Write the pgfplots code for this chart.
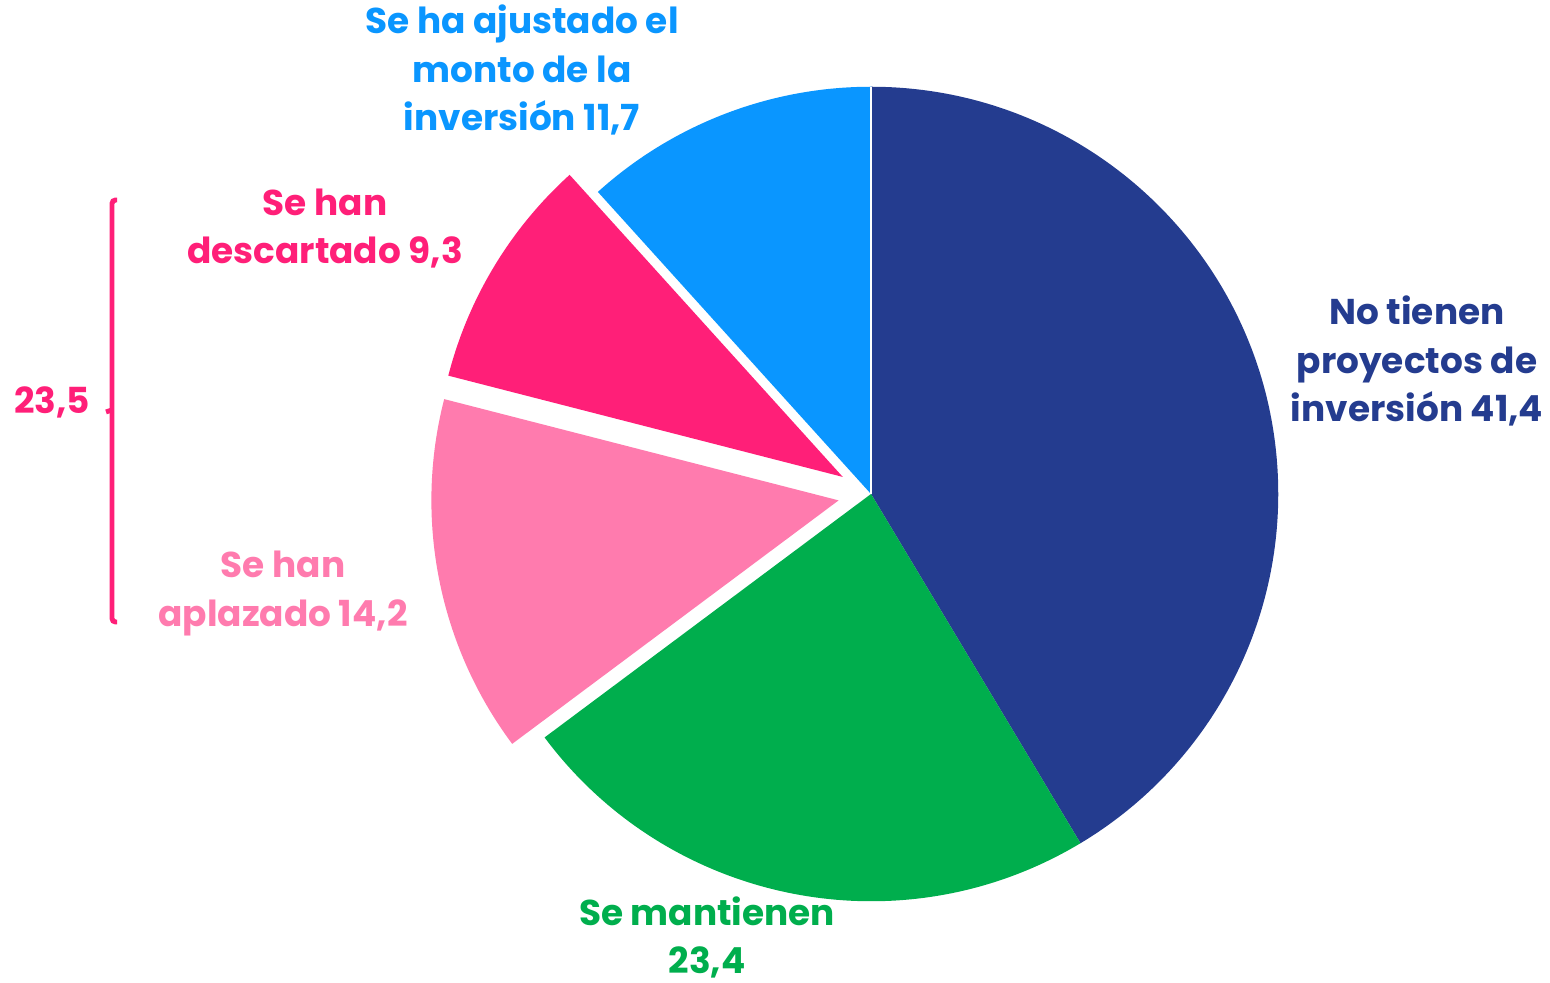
\documentclass[border=0pt]{standalone}
\usepackage{fontspec}
\setmainfont{Poppins}
\usepackage{pgfplots}
\usepackage{pgfplotstable}
\pgfplotsset{compat=1.18}

\definecolor{cNo}{HTML}{243C8F}
\definecolor{cMan}{HTML}{00AE4D}
\definecolor{cApl}{HTML}{FF7BAE}
\definecolor{cDes}{HTML}{FF1F78}
\definecolor{cAju}{HTML}{0A96FF}

\pgfplotstableread{
label      value  explode
NoTienen   41.4   0
Mantienen  23.4   0
Aplazado   14.2   0.33
Descartado 9.3    0.33
Ajustado   11.7   0
}\piedata

\pgfplotstablegetelem{0}{value}\of\piedata \let\vA\pgfplotsretval
\pgfplotstablegetelem{1}{value}\of\piedata \let\vB\pgfplotsretval
\pgfplotstablegetelem{2}{value}\of\piedata \let\vC\pgfplotsretval
\pgfplotstablegetelem{3}{value}\of\piedata \let\vD\pgfplotsretval
\pgfplotstablegetelem{4}{value}\of\piedata \let\vE\pgfplotsretval
\pgfplotstablegetelem{2}{explode}\of\piedata \let\eC\pgfplotsretval
\pgfplotstablegetelem{3}{explode}\of\piedata \let\eD\pgfplotsretval

\pgfmathsetmacro{\aO}{90}
\pgfmathsetmacro{\aA}{\aO-3.6*\vA}
\pgfmathsetmacro{\aB}{\aA-3.6*\vB}
\pgfmathsetmacro{\aC}{\aB-3.6*\vC}
\pgfmathsetmacro{\aD}{\aC-3.6*\vD}
\pgfmathsetmacro{\aE}{\aD-3.6*\vE}
\pgfmathsetmacro{\mC}{(\aB+\aC)/2}
\pgfmathsetmacro{\mD}{(\aC+\aD)/2}

\def\R{4.07cm}

\begin{document}
\begin{tikzpicture}
\begin{axis}[
  x=0.01cm, y=0.01cm,
  xmin=0, xmax=1550, ymin=0, ymax=983,
  hide axis, clip=false, scale only axis,
]
\coordinate (BL) at (axis cs:0,0);
\coordinate (TR) at (axis cs:1550,983);
% slices
\fill[cNo]  (axis cs:871,489) -- ++(\aO:\R) arc[start angle=\aO, end angle=\aA, radius=\R] -- cycle;
\fill[cMan] (axis cs:871,489) -- ++(\aA:\R) arc[start angle=\aA, end angle=\aB, radius=\R] -- cycle;
\fill[cApl] (axis cs:871,489) ++(\mC:\eC cm) -- ++(\aB:\R) arc[start angle=\aB, end angle=\aC, radius=\R] -- cycle;
\fill[cDes] (axis cs:871,489) ++(\mD:\eD cm) -- ++(\aC:\R) arc[start angle=\aC, end angle=\aD, radius=\R] -- cycle;
\fill[cAju] (axis cs:871,489) -- ++(\aD:\R) arc[start angle=\aD, end angle=\aE, radius=\R] -- cycle;
\draw[white, line width=0.4pt] (axis cs:871,489) -- ++(90:\R);
% bracket
\draw[cDes, line width=1.4pt, rounded corners=1pt]
  (axis cs:117,783) -- (axis cs:112,783) -- (axis cs:112,361) -- (axis cs:117,361);
\draw[cDes, line width=1.4pt] (axis cs:112,573) -- (axis cs:106,571);
% labels
\begin{scope}[every node/.style={font=\fontsize{10.2}{13.66}\selectfont\bfseries, align=center, inner sep=0pt}]
\node[text=cAju] at (axis cs:522,913) {Se ha ajustado el\\monto de la\\inversión 11,7};
\node[text=cDes] at (axis cs:325,754.5) {Se han\\descartado 9,3};
\node[text=cApl] at (axis cs:283,389.5) {Se han\\aplazado 14,2};
\node[text=cNo] at (axis cs:1417,622) {No tienen\\proyectos de\\inversión 41,4};
\node[text=cMan] at (axis cs:707,46) {Se mantienen\\23,4};
\node[text=cDes] at (axis cs:52,581) {23,5};
\end{scope}
\end{axis}
\pgfresetboundingbox
\path (BL) rectangle (TR);
\end{tikzpicture}
\end{document}
